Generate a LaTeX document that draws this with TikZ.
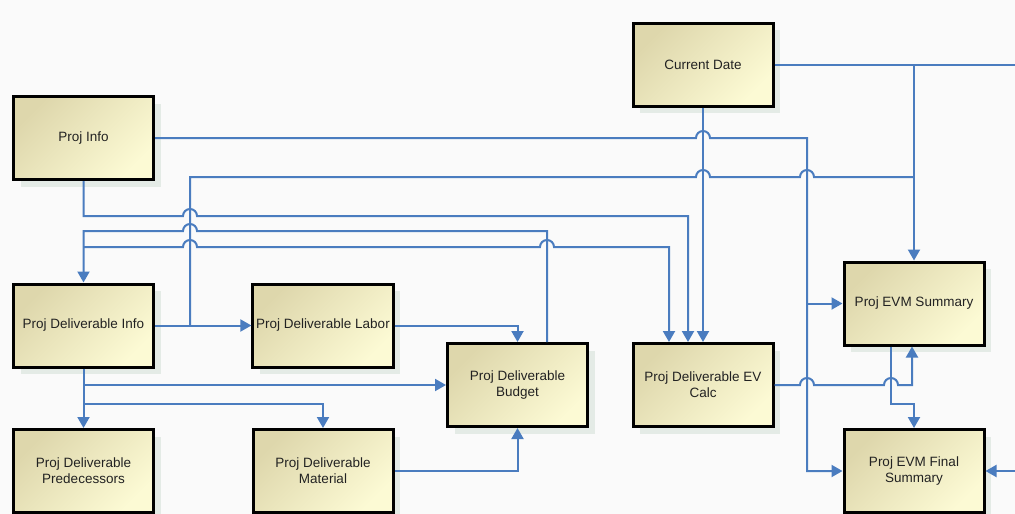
\documentclass[tikz,border=0pt]{standalone}
\usepackage{fontspec}
\setmainfont{Liberation Sans}
\usetikzlibrary{positioning,arrows.meta,shadows,calc}

\definecolor{linkblue}{RGB}{74,124,191}
\definecolor{boxtan}{RGB}{222,215,172}
\definecolor{boxmid}{RGB}{246,243,200}
\definecolor{boxyel}{RGB}{252,250,212}
\definecolor{shadowgreen}{RGB}{228,235,230}
\definecolor{pagebg}{RGB}{250,250,250}
\definecolor{boxtext}{RGB}{34,34,34}

% line jump over a vertical connector at x=#1 on the row y=#2
\newcommand{\hop}[2]{-- (#1-7,#2) arc[start angle=180, end angle=0, radius=7pt]}

\begin{document}
\begin{tikzpicture}[
  x=1pt, y=-1pt,
  font=\fontsize{13.5}{16}\selectfont, >={Triangle[length=11pt,width=12pt]},
  blk/.style={draw=black, line width=3pt, align=center, text=boxtext,
              top color=boxtan, middle color=boxmid, bottom color=boxyel,
              shading angle=45,
              minimum width=140pt, minimum height=83pt,
              drop shadow={shadow xshift=7pt, shadow yshift=-7pt,
                           fill=shadowgreen, opacity=1}},
  conn/.style={draw=linkblue, line width=2pt},
]
\fill[pagebg] (0,0) rectangle (1015,514);
\useasboundingbox (0,0) rectangle (1015,514);

% boxes, placed at pixel positions of the sketch
\node[blk] (pinfo)   at (83.5,138)   {Proj Info};
\node[blk] (cdate)   at (703,64.5)   {Current Date};
\node[blk] (pdinfo)  at (83.5,325.5) {Proj Deliverable Info};
\node[blk] (plabor)  at (323,325.5)  {Proj Deliverable Labor};
\node[blk] (pbudget) at (517.5,385)  {Proj Deliverable\\Budget};
\node[blk] (pevcalc) at (703,385)    {Proj Deliverable EV\\Calc};
\node[blk] (pevm)    at (914,303.5)  {Proj EVM Summary};
\node[blk] (pfinal)  at (914,471)    {Proj EVM Final\\Summary};
\node[blk] (ppred)   at (83.5,471)   {Proj Deliverable\\Predecessors};
\node[blk] (pmat)    at (323,471)    {Proj Deliverable\\Material};

% free ends at the right edge
\coordinate (offdate)  at (1015,64.5);
\coordinate (offfinal) at (1015,471);

% Proj Info -> EVM summaries
\draw[conn,->] (pinfo.east) \hop{703}{138} -- (807,138) |- (pfinal.west);
\draw[conn,->] (807,303.5) -- (pevm.west);

% Current Date
\draw[conn] (cdate.east) -- (offdate);
\draw[conn,->] (cdate.east -| pevm.north) -- (pevm.north);
\draw[conn,->] (cdate.south) -- (pevcalc.north);

% Deliverable Info -> Labor, and up to EVM Summary
\draw[conn,->] (pdinfo.east) -- (plabor.west);
\draw[conn] (190,325.5) -- (190,177) \hop{703}{177} \hop{807}{177} -- (914,177);

% Proj Info -> EV Calc
\draw[conn,->] (pinfo.south) -- (83.5,216) \hop{190}{216} -| ([xshift=-15pt]pevcalc.north);

% Budget -> Deliverable Info and EV Calc
\draw[conn,<-] (pdinfo.north) -- (83.5,231) \hop{190}{231} -| ([xshift=29.5pt]pbudget.north);
\draw[conn,->] (83.5,247) \hop{190}{247} \hop{547}{247} -| ([xshift=-34pt]pevcalc.north);

% Deliverable Info downwards
\draw[conn,->] (pdinfo.south) -- (ppred.north);
\draw[conn,->] (83.5,385) -- (pbudget.west);
\draw[conn,->] (83.5,404) -| (pmat.north);

% Labor, Material -> Budget
\draw[conn,->] (plabor.east) -| (pbudget.north);
\draw[conn,->] (pmat.east) -| (pbudget.south);

% EV Calc and EVM Summary
\draw[conn,->] (pevcalc.east) \hop{807}{385} \hop{891}{385} -| ([xshift=-2pt]pevm.south);
\draw[conn,->] ([xshift=-23pt]pevm.south) -- (891,404) -| (pfinal.north);
\draw[conn,->] (offfinal) -- (pfinal.east);
\end{tikzpicture}
\end{document}
